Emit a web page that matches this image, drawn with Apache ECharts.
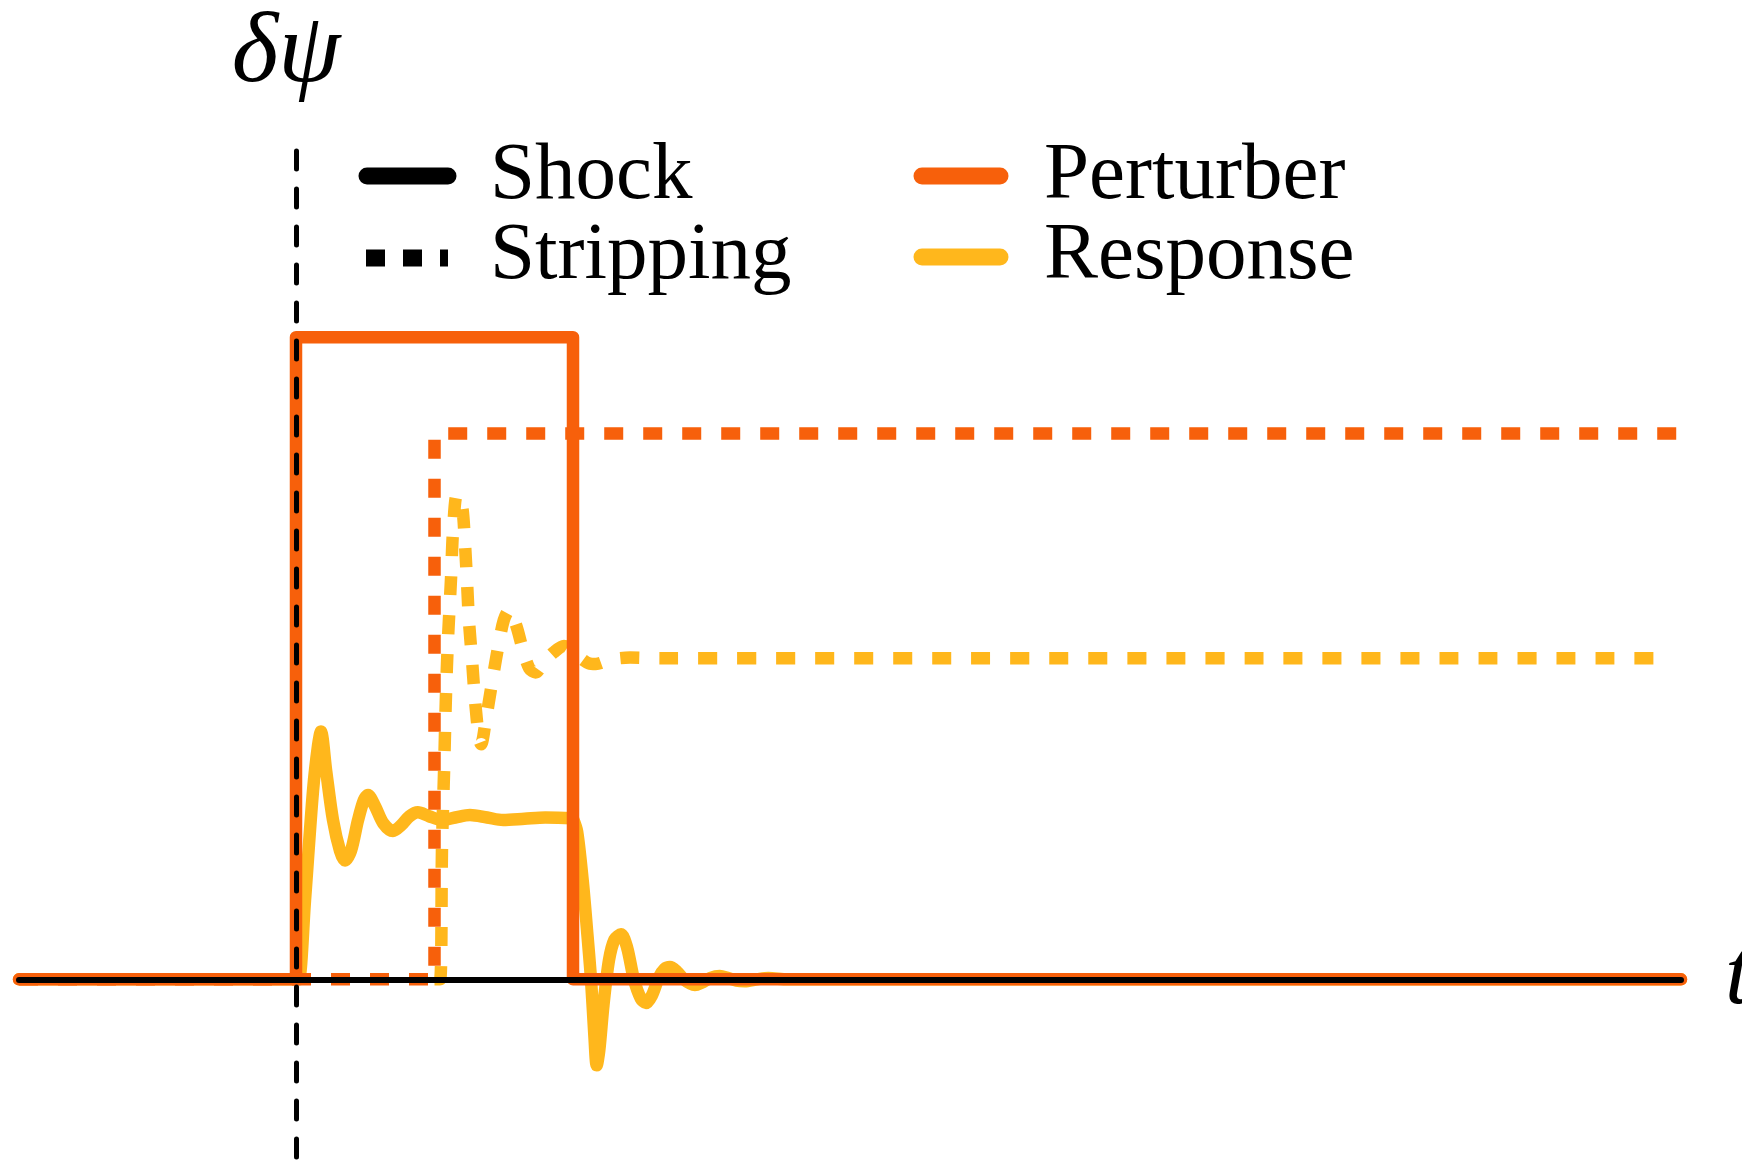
<!DOCTYPE html>
<html>
<head>
<meta charset="utf-8">
<script src="https://cdn.jsdelivr.net/npm/echarts@6/dist/echarts.min.js"></script>
<style>
  html, body { margin: 0; padding: 0; background: #ffffff; }
  #chart { width: 1742px; height: 1170px; }
</style>
</head>
<body>
<div id="chart"></div>
<script>
// Time runs in units of the stripping delay: the shock arrives at t = 0,
// stripping starts at t = 1 and the shock has passed by t = 2.
const perturberShockT = [-2, 0, 0, 2, 2, 10];
const perturberShockV = [0, 0, 1, 1, 0, 0];

const perturberStripT = [-2, 1, 1, 10];
const perturberStripV = [0, 0, 0.85, 0.85];

// Response to the shock: ringing up to a plateau, then ringing back down to zero
const responseShockT = [
  -2, 0, 0.02, 0.065, 0.123, 0.159, 0.18, 0.217, 0.267, 0.318, 0.354, 0.397,
  0.448, 0.49, 0.52, 0.57, 0.63, 0.70, 0.76, 0.82, 0.88, 0.96, 1.054, 1.15,
  1.256, 1.38, 1.495, 1.65, 1.8, 1.99,
  2.0, 2.03, 2.07, 2.1, 2.13, 2.155, 2.171, 2.19, 2.22, 2.26, 2.3, 2.347,
  2.39, 2.44, 2.49, 2.527, 2.57, 2.62, 2.66, 2.70, 2.75, 2.8, 2.85, 2.88,
  2.93, 2.99, 3.06, 3.12, 3.18, 3.24, 3.33, 3.41, 3.55, 10
];
const responseShockV = [
  0, 0, 0, 0.123, 0.294, 0.364, 0.386, 0.326, 0.248, 0.2, 0.185, 0.2,
  0.248, 0.279, 0.287, 0.27, 0.243, 0.231, 0.24, 0.254, 0.26, 0.254, 0.248, 0.252,
  0.256, 0.252, 0.248, 0.25, 0.252, 0.251,
  0.25, 0.23, 0.154, 0.08, 0.0, -0.09, -0.134, -0.11, -0.04, 0.03, 0.062, 0.07,
  0.05, 0.0, -0.03, -0.037, -0.025, 0.003, 0.016, 0.019, 0.012, 0.0, -0.007, -0.009,
  -0.005, 0.002, 0.005, 0.002, -0.002, -0.003, 0, 0.002, 0, 0
];

// Response to stripping: a sharp spike that settles at a new level
const responseStripT = [
  1.0, 1.04, 1.054, 1.069, 1.083, 1.097, 1.119, 1.134, 1.162, 1.199, 1.22, 1.235,
  1.249, 1.271, 1.292, 1.321, 1.336, 1.37, 1.41, 1.455, 1.5, 1.54, 1.59, 1.635,
  1.685, 1.73, 1.79, 1.86, 1.935, 2.025, 2.115, 2.165, 2.27, 2.412, 2.628, 9.9
];
const responseStripV = [
  0, 0, 0.204, 0.324, 0.444, 0.528, 0.623, 0.699, 0.755, 0.737, 0.678, 0.618,
  0.558, 0.497, 0.436, 0.375, 0.366, 0.403, 0.455, 0.512, 0.559, 0.575, 0.551, 0.516,
  0.484, 0.478, 0.494, 0.509, 0.519, 0.505, 0.492, 0.491, 0.498, 0.501, 0.5, 0.5
];

const legendLabels = ['Shock', 'Stripping', 'Perturber', 'Response'];
const axisNames = ['t', 'δψ'];

const ORANGE = '#F7600B';
const YELLOW = '#FFB71C';
const BLACK = '#000000';
const SERIF = "'Liberation Serif', 'DejaVu Serif', serif";
const LINE_W = 12.5;

const pairs = (ts, vs) => ts.map((t, i) => [t, vs[i]]);

const chart = echarts.init(document.getElementById('chart'), null, { renderer: 'canvas' });

const lineBase = { type: 'line', symbol: 'none', showSymbol: false, silent: true, clip: false };

const legendText = (label, x, y) => ({
  type: 'text', z: 10, x: x, y: y,
  style: { text: label, font: '81px ' + SERIF, fill: BLACK, verticalAlign: 'middle', align: 'left' }
});

chart.setOption({
  animation: false,
  backgroundColor: '#ffffff',
  grid: { left: 19, right: 61, top: 151, bottom: 0, outerBoundsMode: 'none', containLabel: false },
  xAxis: {
    type: 'value', min: -2, max: 10, z: 5,
    name: axisNames[0], nameLocation: 'end', nameGap: 44,
    nameTextStyle: { fontFamily: SERIF, fontStyle: 'italic', fontSize: 92, color: BLACK },
    axisLine: { show: true, onZero: true, lineStyle: { color: BLACK, width: 6 } },
    axisTick: { show: false }, axisLabel: { show: false }, splitLine: { show: false }
  },
  yAxis: {
    type: 'value', min: -0.297, max: 1.29, z: 6,
    name: axisNames[1], nameLocation: 'end', nameGap: 46,
    nameTextStyle: { fontFamily: SERIF, fontStyle: 'italic', fontSize: 100, color: BLACK, padding: [0, 20, 0, 0] },
    axisLine: { show: true, onZero: true, lineStyle: { color: BLACK, width: 5, type: [18, 20], dashOffset: 25 } },
    axisTick: { show: false }, axisLabel: { show: false }, splitLine: { show: false }
  },
  series: [
    Object.assign({}, lineBase, {
      name: 'Response (shock)', z: 2, smooth: 0.3,
      data: pairs(responseShockT, responseShockV),
      lineStyle: { color: YELLOW, width: LINE_W, cap: 'round', join: 'round' }
    }),
    Object.assign({}, lineBase, {
      name: 'Response (stripping)', z: 2, smooth: 0.3,
      data: pairs(responseStripT, responseStripV),
      lineStyle: { color: YELLOW, width: LINE_W, type: [19, 20], cap: 'butt', join: 'miter' }
    }),
    Object.assign({}, lineBase, {
      name: 'Perturber (stripping)', z: 3,
      data: pairs(perturberStripT, perturberStripV),
      lineStyle: { color: ORANGE, width: LINE_W, type: [19, 20], cap: 'butt', join: 'miter' }
    }),
    Object.assign({}, lineBase, {
      name: 'Perturber (shock)', z: 3,
      data: pairs(perturberShockT, perturberShockV),
      lineStyle: { color: ORANGE, width: LINE_W, cap: 'round', join: 'round' }
    })
  ],
  graphic: [
    // line-style key: shock (solid) and stripping (dotted)
    { type: 'line', z: 10, shape: { x1: 367, y1: 176, x2: 448, y2: 176 },
      style: { stroke: BLACK, lineWidth: 17, lineCap: 'round' } },
    { type: 'line', z: 10, shape: { x1: 366, y1: 258, x2: 448, y2: 258 },
      style: { stroke: BLACK, lineWidth: 17, lineCap: 'butt', lineDash: [19, 18] } },
    // colour key: perturber and response
    { type: 'line', z: 10, shape: { x1: 922, y1: 176, x2: 1000, y2: 176 },
      style: { stroke: ORANGE, lineWidth: 17, lineCap: 'round' } },
    { type: 'line', z: 10, shape: { x1: 922, y1: 257, x2: 1000, y2: 257 },
      style: { stroke: YELLOW, lineWidth: 17, lineCap: 'round' } },
    legendText(legendLabels[0], 490, 177),
    legendText(legendLabels[1], 490, 257),
    legendText(legendLabels[2], 1044, 177),
    legendText(legendLabels[3], 1044, 257)
  ]
});
</script>
</body>
</html>
